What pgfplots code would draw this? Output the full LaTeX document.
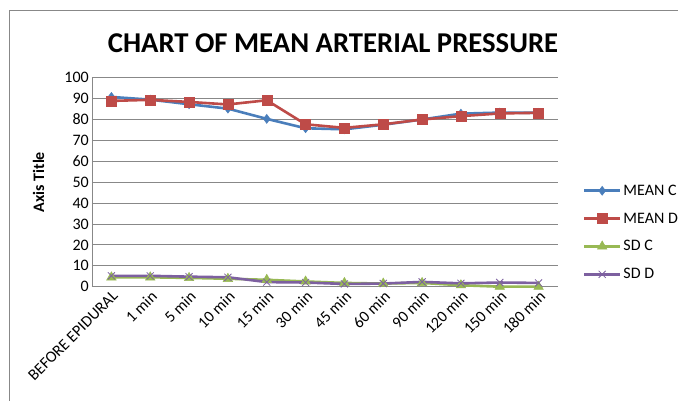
\documentclass[border=0pt]{standalone}
\usepackage{pgfplots}
\pgfplotsset{compat=1.18}
\usepackage{fontspec}
\setmainfont{Carlito}
\definecolor{cBlue}{HTML}{4A7EBB}
\definecolor{cRed}{HTML}{BE4B48}
\definecolor{cGreen}{HTML}{98B954}
\definecolor{cPurple}{HTML}{7D60A0}
\definecolor{cGrid}{HTML}{888888}
\begin{document}
\begin{tikzpicture}
\useasboundingbox (0pt,0pt) rectangle (678pt,401pt);
\fill[white] (0pt,0pt) rectangle (678pt,401pt);
\draw[cGrid,line width=1pt] (9.5pt,0pt) -- (9.5pt,390.5pt) -- (678pt,390.5pt);
\node[font=\fontsize{28.7}{32}\selectfont\bfseries] at (333pt,358pt) {CHART OF MEAN ARTERIAL PRESSURE};
\begin{axis}[
  at={(92pt,114.3pt)}, anchor=south west,
  scale only axis, width=466pt, height=209pt,
  xmin=-0.5, xmax=11.5, ymin=0, ymax=100,
  axis x line*=bottom, axis y line*=left,
  axis line style={cGrid, line width=0.8pt},
  ytick={0,10,...,100},
  ymajorgrids, grid style={cGrid, line width=0.8pt},
  xtick={0,...,11},
  xticklabels={BEFORE EPIDURAL,1 min,5 min,10 min,15 min,30 min,45 min,60 min,90 min,120 min,150 min,180 min},
  xticklabel style={rotate=45, anchor=north east, font=\fontsize{16}{18}\selectfont, inner sep=2pt},
  yticklabel style={font=\fontsize{16}{18}\selectfont, inner sep=3pt},
  /pgf/number format/assume math mode=true,
  major tick length=0pt,
  ylabel={\textbf{Axis Title}},
  ylabel style={font=\fontsize{16}{18}\selectfont, at={(axis description cs:-0.095,0.5)}},
  clip=false,
  legend style={at={(1.053,0.259)}, anchor=west, draw=none, fill=none,
    font=\fontsize{16}{18}\selectfont, row sep=12pt, inner sep=0pt},
  legend cell align=left,
  legend image code/.code={\draw[mark repeat=2,mark phase=2] plot coordinates {(0pt,0pt) (18pt,0pt) (36pt,0pt)};},
  every axis plot/.append style={line width=2.6pt, mark options={solid}},
]
\addplot[cBlue, mark=diamond*, mark size=4.5pt, mark options={fill=cBlue, draw=cBlue, line width=0.5pt}] coordinates {
(0,90.8) (1,89.5) (2,87.3) (3,85.2) (4,80.3) (5,75.8) (6,75.3) (7,77.5) (8,80.0) (9,82.8) (10,83.3) (11,83.2)};
\addlegendentry{MEAN C}
\addplot[cRed, mark=square*, mark size=5pt, mark options={fill=cRed, draw=cRed, line width=0.5pt}] coordinates {
(0,88.9) (1,89.4) (2,88.4) (3,87.2) (4,89.2) (5,77.7) (6,76.0) (7,77.7) (8,80.0) (9,81.6) (10,82.9) (11,83.2)};
\addlegendentry{MEAN D}
\addplot[cGreen, mark=triangle*, mark size=5.5pt, mark options={fill=cGreen, draw=cGreen, line width=0.5pt}] coordinates {
(0,4.5) (1,4.5) (2,4.2) (3,3.8) (4,3.3) (5,2.5) (6,1.8) (7,1.5) (8,1.8) (9,0.7) (10,0.0) (11,0.0)};
\addlegendentry{SD C}
\addplot[cPurple, mark=x, mark size=5pt, mark options={draw=cPurple, line width=0.8pt}] coordinates {
(0,5.2) (1,5.2) (2,4.8) (3,4.5) (4,2.2) (5,2.0) (6,1.3) (7,1.5) (8,2.3) (9,1.6) (10,2.0) (11,1.8)};
\addlegendentry{SD D}
\end{axis}
\end{tikzpicture}
\end{document}
